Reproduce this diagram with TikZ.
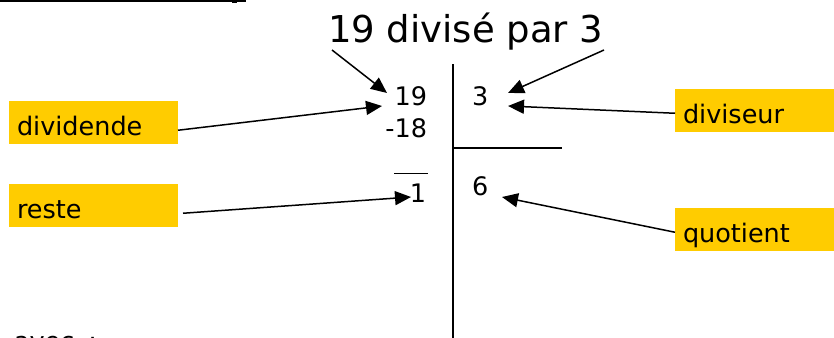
\documentclass[tikz,border=0pt]{standalone}
\usepackage{fontspec}
\setmainfont{DejaVu Sans}
\usetikzlibrary{arrows.meta}
\definecolor{lab}{HTML}{FFCC00}
\begin{document}
\begin{tikzpicture}[x=1pt,y=-1pt,
  lbl/.style={fill=lab, inner xsep=8pt, inner ysep=0pt, outer sep=0pt, text height=34pt, text depth=8.5pt, align=left, font=\fontsize{25.5}{30}\selectfont},
  num/.style={inner sep=0pt, outer sep=0pt, font=\fontsize{25.5}{30}\selectfont},
  arr/.style={line width=1.5pt, -{Triangle[length=16pt,width=14pt]}},
  rulel/.style={line width=1.5pt}]
\useasboundingbox (0,0) rectangle (834,337);
% top-left remnant
\draw[line width=2pt] (0,0.9) coordinate (ul1) -- (246,0.9) coordinate (ul2);
\fill (232,1) rectangle (237,3.5);
% title
\node[num, anchor=base west, font=\fontsize{37}{40}\selectfont] (title) at (328,42) {19 divisé par 3};
% labels
\node[lbl, anchor=base west, text width=153pt] (dividende) at (9,135) {dividende};
\node[lbl, anchor=base west, text width=153pt] (reste) at (9,218) {reste};
\node[lbl, anchor=base west, text width=143pt] (diviseur) at (675,123) {diviseur};
\node[lbl, anchor=base west, text width=143pt] (quotient) at (675,242) {quotient};
% division
\node[num, anchor=base east] (n19) at (427,105) {19};
\node[num, anchor=base east] (n18) at (427,137) {-18};
\node[num, anchor=base east] (n1) at (426,202) {1};
\node[num, anchor=base west] (n3) at (472,105) {3};
\node[num, anchor=base west] (n6) at (472,195) {6};
\coordinate (vtop) at (453,64);
\coordinate (vbot) at (453,340);
\coordinate (hend) at (562,148);
\draw[rulel] (vtop) -- (vbot);
\draw[rulel] (453,148) coordinate (hstart) -- (hend);
\draw[line width=1pt] (394,173) coordinate (ol1) -- (428,173) coordinate (ol2);
% arrow tips
\coordinate (t19a) at (387,93);
\coordinate (t3a) at (508,93);
\coordinate (t19b) at (382,106);
\coordinate (t1) at (411,197);
\coordinate (t3b) at (508,106);
\coordinate (t6) at (502,197);
\coordinate (s1) at (332,50);
\coordinate (s2) at (604,50);
\draw[arr] (s1) -- (t19a);
\draw[arr] (s2) -- (t3a);
\draw[arr] ([yshift=-8pt]dividende.east) -- (t19b);
\draw[arr] ([xshift=5pt,yshift=-8pt]reste.east) -- (t1);
\draw[arr] ([yshift=-3pt]diviseur.west) -- (t3b);
\draw[arr] ([yshift=-3pt]quotient.west) -- (t6);
% bottom remnant
\node[num, anchor=base west] (avec) at (14,350) {avec\hspace{14pt}:};
\end{tikzpicture}
\end{document}
